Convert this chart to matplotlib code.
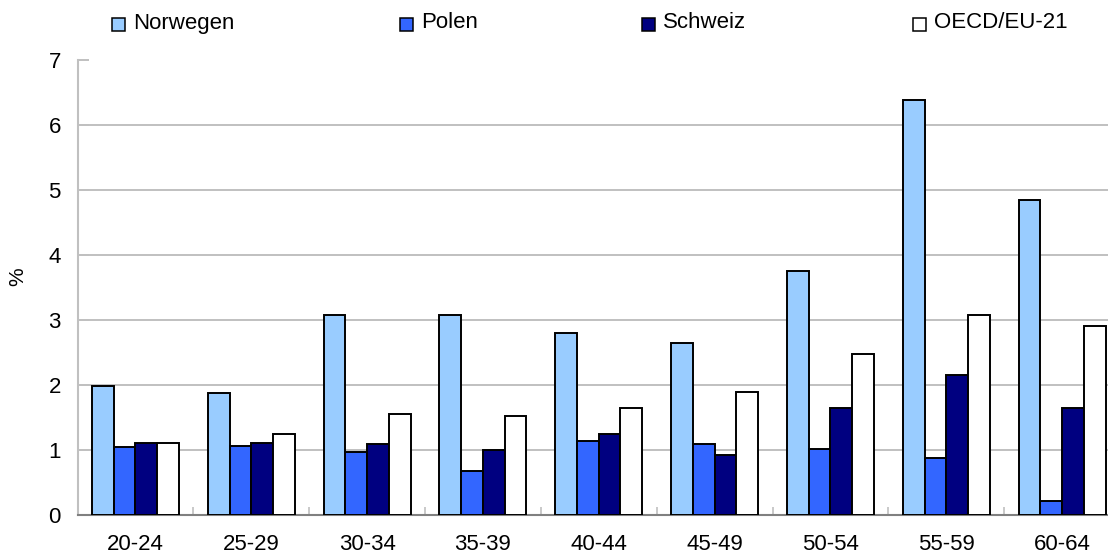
import numpy as np
import matplotlib
matplotlib.use("Agg")
import matplotlib.pyplot as plt
import matplotlib.patches as patches

plt.rcParams['font.family'] = ['Liberation Sans', 'DejaVu Sans']

# ---------------- Data ----------------
age_groups = ["20-24", "25-29", "30-34", "35-39", "40-44", "45-49", "50-54", "55-59", "60-64"]
norwegen = [1.98, 1.88, 3.07, 3.07, 2.80, 2.64, 3.75, 6.38, 4.84]
polen = [1.04, 1.06, 0.97, 0.68, 1.14, 1.09, 1.01, 0.87, 0.22]
schweiz = [1.11, 1.11, 1.09, 1.00, 1.25, 0.93, 1.64, 2.15, 1.64]
oecd = [1.11, 1.25, 1.55, 1.53, 1.64, 1.90, 2.48, 3.07, 2.91]

series_names = ["Norwegen", "Polen", "Schweiz", "OECD/EU-21"]
series_colors = ["#99CCFF", "#3366FF", "#000080", "#FFFFFF"]

W, H = 1108, 555

# ---------------- Figure ----------------
fig = plt.figure(figsize=(W / 100, H / 100), dpi=100)
ax = fig.add_axes([77.5 / W, 40 / H, 1042.5 / W, 455 / H])

x = np.arange(len(age_groups))
bar_w = 0.1875
for i, (vals, col) in enumerate(zip([norwegen, polen, schweiz, oecd], series_colors)):
    ax.bar(x + (i - 1.5) * bar_w, vals, width=bar_w, color=col,
           edgecolor='black', linewidth=1.4, zorder=3)

ax.set_xlim(-0.5, len(age_groups) - 0.5)
ax.set_ylim(0, 7)
ax.set_yticks(range(0, 8))
for y in range(1, 7):
    ax.axhline(y, color='#c0c0c0', linewidth=1.4, zorder=1)

ax.set_xticks(x)
ax.set_xticklabels(age_groups, fontsize=16)
ax.set_xticks(np.arange(0.5, len(age_groups) - 0.5), minor=True)
ax.tick_params(axis='x', which='major', length=0, pad=14)
ax.tick_params(axis='x', which='minor', direction='in', length=6, width=1.2, color='#c0c0c0')
ax.tick_params(axis='y', direction='in', length=8, width=1.4, color='#c0c0c0',
               labelsize=16, pad=12)

for side in ['top', 'right']:
    ax.spines[side].set_visible(False)
ax.spines['left'].set_color('#c0c0c0')
ax.spines['left'].set_linewidth(1.5)
ax.spines['bottom'].set_color('#808080')
ax.spines['bottom'].set_linewidth(1.5)

fig.text(18 / W, 1 - 277 / H, '%', rotation=90, ha='center', va='center', fontsize=15)

# ---------------- Legend across the top ----------------
legend_x = [112, 400, 642, 913]
for name, col, lx in zip(series_names, series_colors, legend_x):
    fig.patches.append(patches.Rectangle((lx / W, 1 - 31 / H), 13 / W, 13 / H,
                                         transform=fig.transFigure, facecolor=col,
                                         edgecolor='black', linewidth=1.1))
    fig.text((lx + 21) / W, 1 - 23 / H, name, ha='left', va='center', fontsize=16)

fig.savefig('out.png', dpi=100)
